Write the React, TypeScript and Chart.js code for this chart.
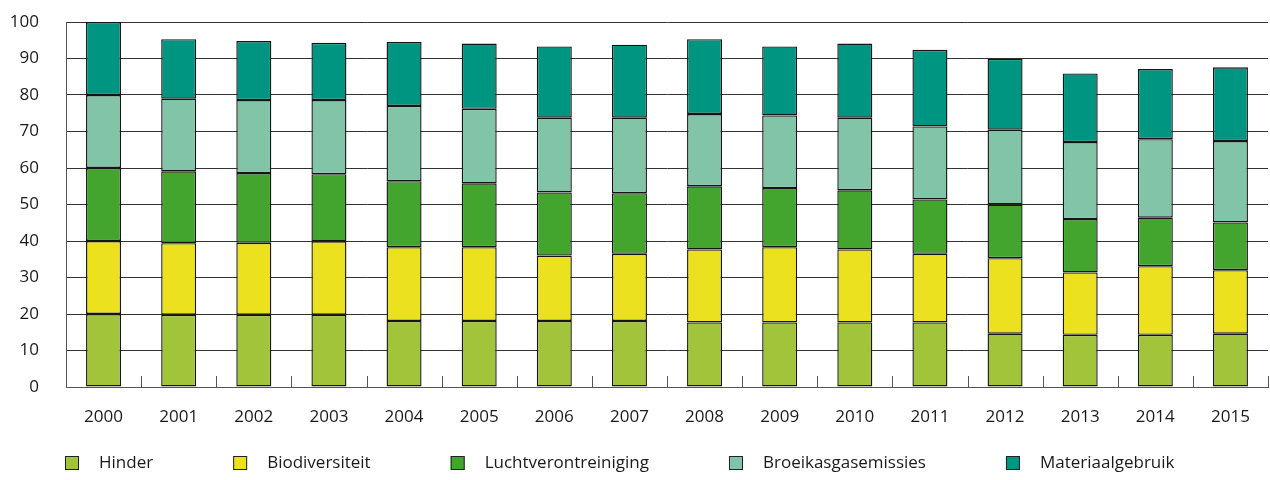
import React, { useEffect, useRef } from 'react';
import { Chart, registerables } from 'chart.js';

Chart.register(...registerables);

const years = ['2000', '2001', '2002', '2003', '2004', '2005', '2006', '2007', '2008', '2009', '2010', '2011', '2012', '2013', '2014', '2015'];

const hinder = [20, 19.8, 19.8, 19.8, 18.1, 18.1, 18.1, 18.1, 17.7, 17.7, 17.7, 17.7, 14.6, 14.3, 14.3, 14.6];
const biodiversiteit = [20, 19.6, 19.7, 20.1, 20.2, 20.2, 17.9, 18.4, 20.0, 20.6, 20.0, 18.8, 20.7, 17.1, 18.8, 17.4];
const luchtverontreiniging = [20, 19.7, 19.1, 18.4, 18.1, 17.5, 17.3, 16.6, 17.3, 16.2, 16.2, 14.9, 14.7, 14.6, 13.3, 13.1];
const broeikasgasemissies = [20, 19.9, 20.0, 20.3, 20.6, 20.4, 20.5, 20.7, 19.8, 19.9, 19.9, 20.0, 20.5, 21.1, 21.5, 22.3];
const materiaalgebruik = [20, 16.3, 16.2, 15.7, 17.5, 17.9, 19.5, 20.0, 20.5, 18.9, 20.3, 21.0, 19.4, 18.8, 19.2, 20.2];

const seriesNames = ['Hinder', 'Biodiversiteit', 'Luchtverontreiniging', 'Broeikasgasemissies', 'Materiaalgebruik'];
const seriesColors = ['#a2c43a', '#ebe11f', '#43a52d', '#82c4a8', '#009580'];

const yMin = 0;
const yMax = 100;
const yStep = 10;

const FONT = "'Open Sans', sans-serif";
const TEXT = '#1a1a1a';
const AXIS = '#555555';

const tickMarksPlugin = {
  id: 'innerTicks',
  afterDatasetsDraw(chart: any) {
    const x = chart.scales.x;
    const area = chart.chartArea;
    const n = chart.data.labels.length;
    if (n < 2) return;
    const half = (x.getPixelForValue(1) - x.getPixelForValue(0)) / 2;
    const ctx = chart.ctx;
    ctx.save();
    ctx.strokeStyle = AXIS;
    ctx.lineWidth = 1;
    for (let i = 0; i < n; i++) {
      const px = Math.round(x.getPixelForValue(i) + half) + 0.5;
      ctx.beginPath();
      ctx.moveTo(px, area.bottom);
      ctx.lineTo(px, area.bottom - 11);
      ctx.stroke();
    }
    ctx.restore();
  },
};

const legendPlugin = {
  id: 'customLegend',
  afterDraw(chart: any) {
    const ctx = chart.ctx;
    ctx.save();
    ctx.font = `17px ${FONT}`;
    ctx.textBaseline = 'middle';
    ctx.textAlign = 'left';
    let x = 65;
    const yc = 463;
    const box = 14;
    chart.data.datasets.forEach((ds: any) => {
      ctx.fillStyle = ds.backgroundColor;
      ctx.fillRect(x, yc - box / 2, box, box);
      ctx.strokeStyle = '#222222';
      ctx.lineWidth = 1;
      ctx.strokeRect(x + 0.5, yc - box / 2 + 0.5, box - 1, box - 1);
      ctx.fillStyle = TEXT;
      ctx.fillText(ds.label, x + 34, yc);
      const w = ctx.measureText(ds.label).width;
      x += 34 + w + 80;
    });
    ctx.restore();
  },
};

export default function App() {
  const ref = useRef<HTMLCanvasElement | null>(null);

  useEffect(() => {
    document.body.style.margin = '0';
    const canvas = ref.current;
    if (!canvas) return;
    const seriesData = [hinder, biodiversiteit, luchtverontreiniging, broeikasgasemissies, materiaalgebruik];
    const chart = new Chart(canvas, {
      type: 'bar',
      data: {
        labels: years,
        datasets: seriesData.map((d, i) => ({
          label: seriesNames[i],
          data: d,
          backgroundColor: seriesColors[i],
          borderColor: '#151515',
          borderWidth: 1.4,
          borderSkipped: false,
          barPercentage: 0.466,
          categoryPercentage: 1,
          stack: 's',
        })),
      },
      options: {
        responsive: false,
        animation: false,
        devicePixelRatio: 1,
        layout: { padding: { left: 0, right: 2, top: 22, bottom: 0 } },
        plugins: {
          legend: { display: false },
          tooltip: { enabled: false },
        },
        scales: {
          x: {
            stacked: true,
            grid: { display: false, drawTicks: false },
            border: { display: true, color: AXIS, width: 1 },
            ticks: { color: TEXT, font: { family: FONT, size: 17 }, padding: 20, maxRotation: 0 },
            afterFit(scale: any) {
              scale.height = 93;
            },
          },
          y: {
            stacked: true,
            min: yMin,
            max: yMax,
            grid: { color: '#333333', lineWidth: 1, drawTicks: false },
            border: { display: true, color: AXIS, width: 1 },
            ticks: { stepSize: yStep, color: TEXT, font: { family: FONT, size: 17 }, padding: 27 },
            afterFit(scale: any) {
              scale.width = 66;
              scale.paddingTop = 0;
              scale.paddingBottom = 0;
            },
          },
        },
      },
      plugins: [tickMarksPlugin, legendPlugin],
    });
    return () => chart.destroy();
  }, []);

  return <canvas ref={ref} width={1270} height={480} style={{ display: 'block', width: 1270, height: 480 }} />;
}
